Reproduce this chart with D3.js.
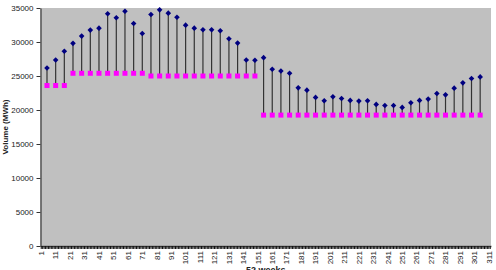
<!DOCTYPE html>
<html>
<head>
<meta charset="utf-8">
<script src="https://cdn.jsdelivr.net/npm/d3@7"></script>
<style>
  body { margin: 0; background: #fff; }
  svg { display: block; font-family: "Liberation Sans", Arial, sans-serif; }
</style>
</head>
<body>
<svg id="chart" width="496" height="270"></svg>
<script>
// Category axis: 312 slots (6 per week), labelled every 10th
const categories = d3.range(1, 313);

// Category slot of each weekly point
const weekSlots = [5, 11, 17, 23, 29, 35, 41, 47, 53, 59, 65, 71, 77, 83, 89, 95, 101,
  107, 113, 119, 125, 131, 137, 143, 149, 155, 161, 167, 173, 179, 185, 191, 197, 203,
  209, 215, 221, 227, 233, 239, 245, 251, 257, 263, 269, 275, 281, 287, 293, 299, 305];

// High values (blue diamonds), MWh
const highs = [26180, 27360, 28630, 29800, 30870, 31750, 32040, 34150, 33560, 34530,
  32730, 31260, 34050, 34730, 34240, 33650, 32480, 32040, 31800, 31800, 31650, 30480,
  29840, 27360, 27310, 27700, 25990, 25740, 25400, 23260, 22920, 21850, 21350, 21940,
  21700, 21410, 21310, 21360, 20820, 20670, 20670, 20380, 21060, 21410, 21600, 22430,
  22230, 23210, 23990, 24630, 24870];

// Low values (magenta squares), MWh
const lows = [23600, 23600, 23600, 25400, 25400, 25400, 25400, 25400, 25400, 25400,
  25400, 25400, 25000, 25000, 25000, 25000, 25000, 25000, 25000, 25000, 25000, 25000,
  25000, 25000, 25000, 19250, 19250, 19250, 19250, 19250, 19250, 19250, 19250, 19250,
  19250, 19250, 19250, 19250, 19250, 19250, 19250, 19250, 19250, 19250, 19250, 19250,
  19250, 19250, 19250, 19250, 19250];

const yTicks = [0, 5000, 10000, 15000, 20000, 25000, 30000, 35000];

const data = weekSlots.map((c, i) => ({cat: c, high: highs[i], low: lows[i]}));

const svg = d3.select("#chart");
const plotLeft = 40.5, plotRight = 491, plotTop = 8, plotBottom = 246;

const x = d3.scaleBand()
    .domain(categories)
    .range([plotLeft, plotRight])
    .padding(0);

const y = d3.scaleLinear()
    .domain([0, 35000])
    .range([plotBottom, plotTop]);

// Plot area
svg.append("rect")
    .attr("x", plotLeft)
    .attr("y", plotTop)
    .attr("width", plotRight - plotLeft)
    .attr("height", plotBottom - plotTop)
    .attr("fill", "#c0c0c0");

// Y axis
const yAxis = svg.append("g")
    .attr("transform", `translate(${plotLeft},0)`)
    .call(d3.axisLeft(y)
        .tickValues(yTicks)
        .tickFormat(d3.format("d"))
        .tickSize(4)
        .tickPadding(3)
        .tickSizeOuter(0));
yAxis.select(".domain").attr("stroke", "#555").attr("stroke-width", 1.5);
yAxis.selectAll(".tick line").attr("stroke", "#333");
yAxis.selectAll("text").attr("font-size", 8).attr("fill", "#222");

// X axis
const xAxis = svg.append("g")
    .attr("transform", `translate(0,${plotBottom})`)
    .call(d3.axisBottom(x)
        .tickValues(categories)
        .tickFormat(d => (d - 1) % 10 === 0 ? d : "")
        .tickSize(3)
        .tickSizeOuter(0));
xAxis.select(".domain").attr("stroke", "#555").attr("stroke-width", 1.5);
xAxis.selectAll(".tick line").attr("stroke", "#111");
xAxis.selectAll("text")
    .attr("font-size", 8)
    .attr("fill", "#222")
    .attr("y", 0)
    .attr("x", -5)
    .attr("dy", "0.35em")
    .attr("transform", "rotate(-90)")
    .style("text-anchor", "end");

// High-low lines
svg.selectAll("line.hl")
    .data(data)
    .enter()
    .append("line")
    .attr("class", "hl")
    .attr("x1", d => x(d.cat) + x.bandwidth() / 2)
    .attr("x2", d => x(d.cat) + x.bandwidth() / 2)
    .attr("y1", d => y(d.high))
    .attr("y2", d => y(d.low))
    .attr("stroke", "#333")
    .attr("stroke-width", 1.2);

// Low markers
svg.selectAll("rect.low")
    .data(data)
    .enter()
    .append("rect")
    .attr("class", "low")
    .attr("x", d => x(d.cat) + x.bandwidth() / 2 - 2.5)
    .attr("y", d => y(d.low) - 2.5)
    .attr("width", 5)
    .attr("height", 5)
    .attr("fill", "#ff00ff");

// High markers
svg.selectAll("path.high")
    .data(data)
    .enter()
    .append("path")
    .attr("class", "high")
    .attr("transform", d => `translate(${x(d.cat) + x.bandwidth() / 2},${y(d.high)})`)
    .attr("d", "M0,-2.8L2.8,0L0,2.8L-2.8,0Z")
    .attr("fill", "#000080");

// Axis titles
svg.append("text")
    .attr("transform", `translate(8,${(plotTop + plotBottom) / 2}) rotate(-90)`)
    .attr("text-anchor", "middle")
    .attr("font-size", 8)
    .attr("font-weight", "bold")
    .attr("fill", "#222")
    .text("Volume (MWh)");

svg.append("text")
    .attr("x", (plotLeft + plotRight) / 2)
    .attr("y", 273)
    .attr("text-anchor", "middle")
    .attr("font-size", 9)
    .attr("font-weight", "bold")
    .attr("fill", "#222")
    .text("52 weeks");
</script>
</body>
</html>
